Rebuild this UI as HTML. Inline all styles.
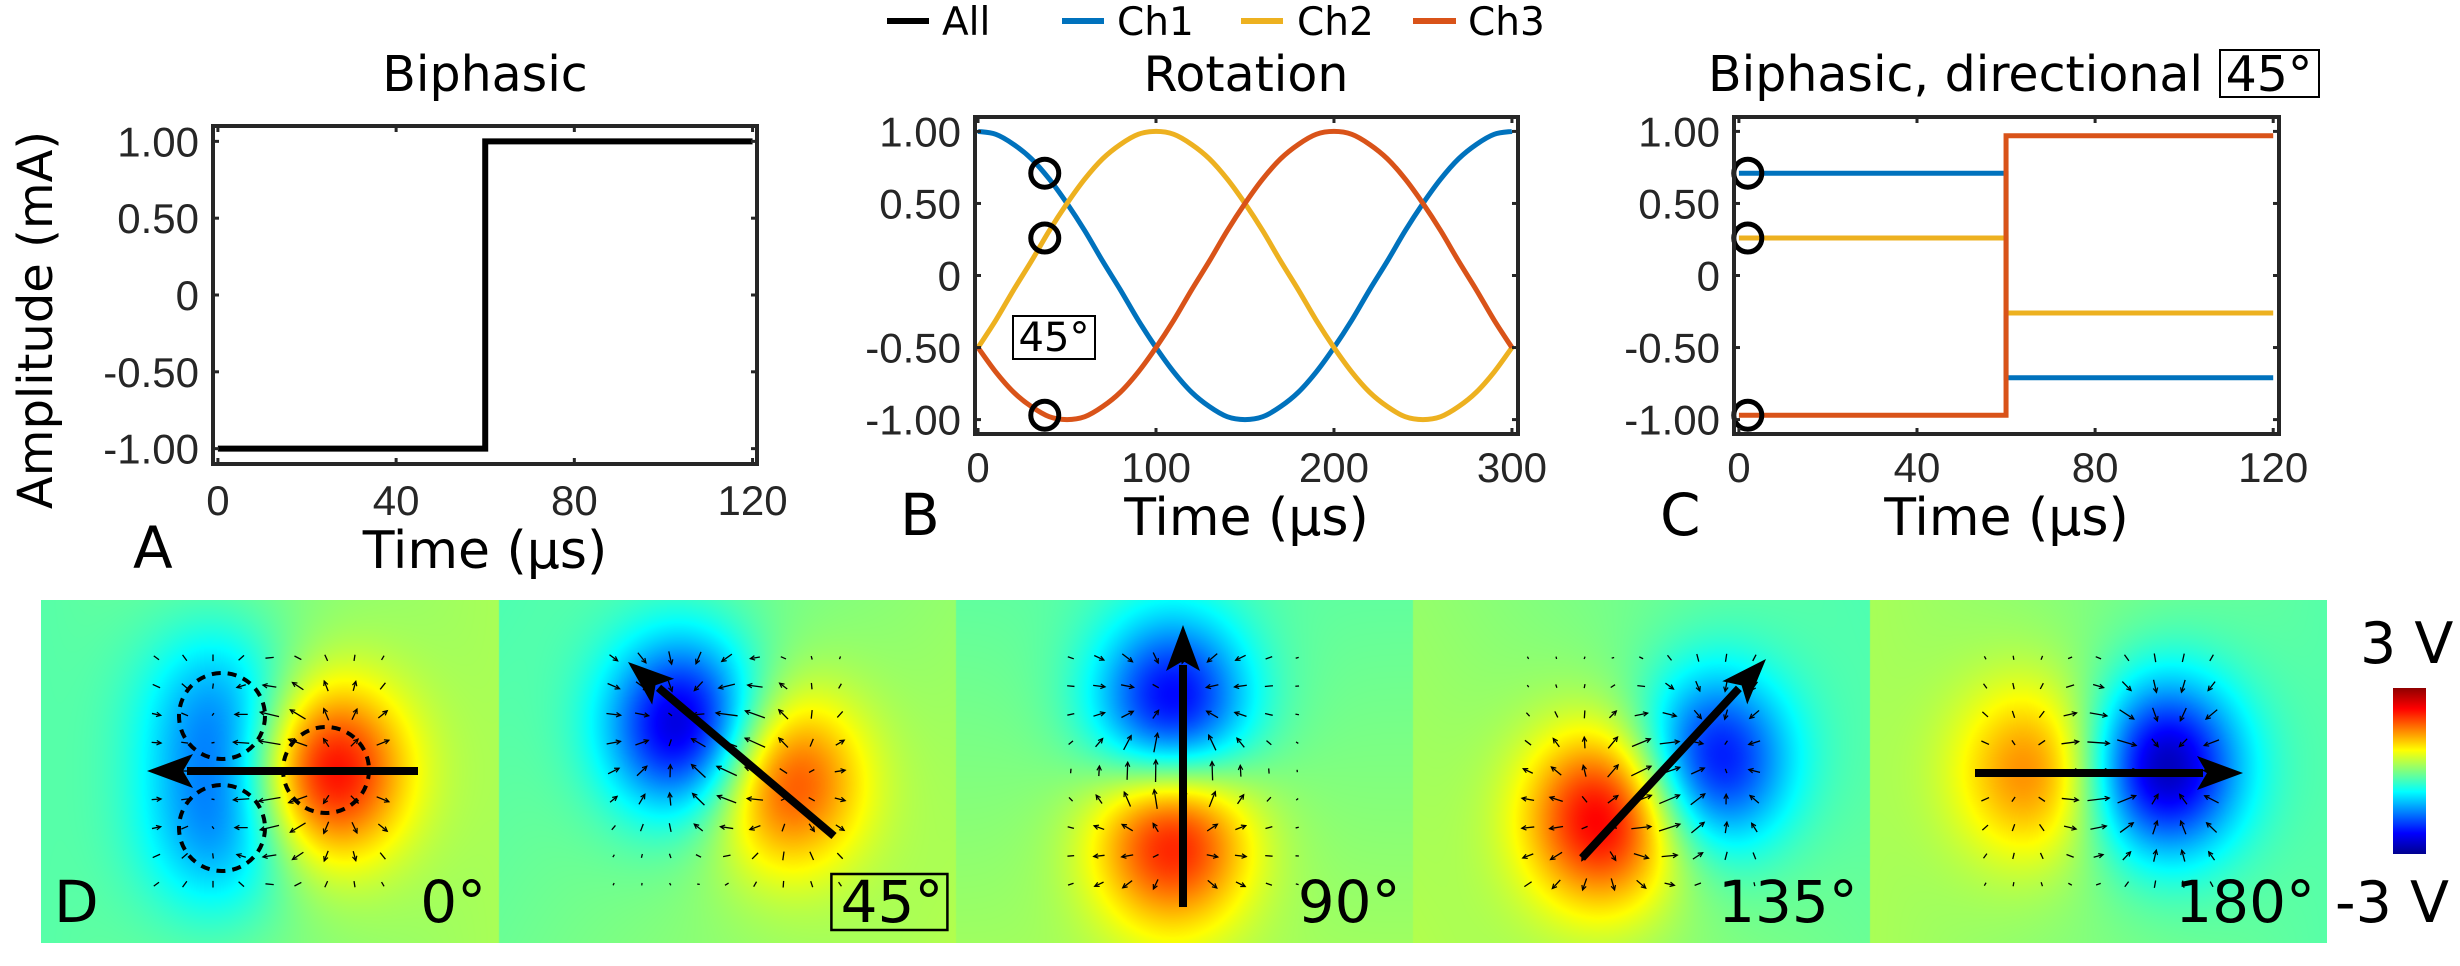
<!DOCTYPE html>
<html><head><meta charset="utf-8">
<style>
html,body{margin:0;padding:0;background:#fff;}
#wrap{position:relative;width:2460px;height:966px;overflow:hidden;background:#fff;}
#heat{position:absolute;left:41px;top:600px;}
#svg{position:absolute;left:0;top:0;}
text{font-family:"DejaVu Sans","Liberation Sans",sans-serif;}
.tick{font-family:"Liberation Sans",sans-serif;font-size:42px;fill:#262626;}
</style></head>
<body>
<div id="wrap">
<canvas id="heat" width="2286" height="343"></canvas>
<svg id="svg" width="2460" height="966" xmlns="http://www.w3.org/2000/svg">
  <g id="legend">
    <g><line x1="887" y1="21" x2="929" y2="21" stroke="#000" stroke-width="6"/><text x="942" y="35" font-size="39">All</text></g>
    <g><line x1="1062" y1="21" x2="1104" y2="21" stroke="#0072BD" stroke-width="6"/><text x="1117" y="35" font-size="39">Ch1</text></g>
    <g><line x1="1241" y1="21" x2="1283" y2="21" stroke="#EDB120" stroke-width="6"/><text x="1297" y="35" font-size="39">Ch2</text></g>
    <g><line x1="1413" y1="21" x2="1456" y2="21" stroke="#D95319" stroke-width="6"/><text x="1468" y="35" font-size="39">Ch3</text></g>
  </g>
  <text x="485" y="91" font-size="49" text-anchor="middle">Biphasic</text>
  <text x="1246" y="91" font-size="49" text-anchor="middle">Rotation</text>
  <text x="1708" y="91" font-size="49">Biphasic, directional</text>
  <rect x="2220" y="50" width="99" height="47" fill="none" stroke="#000" stroke-width="2"/>
  <text x="2269" y="91" font-size="49" text-anchor="middle">45°</text>
  <text transform="translate(52,320) rotate(-90)" font-size="48" text-anchor="middle">Amplitude (mA)</text>
  <g id="charts"></g>
  <g id="quiver"></g>
  <g id="overlay"></g>
  <text x="54" y="922" font-size="58">D</text>
  <defs><linearGradient id="jet" x1="0" y1="1" x2="0" y2="0">
    <stop offset="0" stop-color="#00008f"/><stop offset="0.125" stop-color="#0000ff"/><stop offset="0.375" stop-color="#00ffff"/>
    <stop offset="0.625" stop-color="#ffff00"/><stop offset="0.875" stop-color="#ff0000"/><stop offset="1" stop-color="#8f0000"/>
  </linearGradient></defs>
  <rect x="2393" y="688" width="33" height="166" fill="url(#jet)"/>
  <text x="2360" y="663" font-size="57">3 V</text>
  <text x="2335" y="922" font-size="57">-3 V</text>
</svg>
</div>
<script>
// ---------- data ----------
const aTimes = [0, 60, 60, 120];
const aValues = [-1, -1, 1, 1];
const bTimes = [0,10,20,30,40,50,60,70,80,90,100,110,120,130,140,150,160,170,180,190,200,210,220,230,240,250,260,270,280,290,300];
const bCh1 = [1.00,0.98,0.91,0.81,0.67,0.50,0.31,0.10,-0.10,-0.31,-0.50,-0.67,-0.81,-0.91,-0.98,-1.00,-0.98,-0.91,-0.81,-0.67,-0.50,-0.31,-0.10,0.10,0.31,0.50,0.67,0.81,0.91,0.98,1.00];
const bCh2 = [-0.50,-0.31,-0.10,0.10,0.31,0.50,0.67,0.81,0.91,0.98,1.00,0.98,0.91,0.81,0.67,0.50,0.31,0.10,-0.10,-0.31,-0.50,-0.67,-0.81,-0.91,-0.98,-1.00,-0.98,-0.91,-0.81,-0.67,-0.50];
const bCh3 = [-0.50,-0.67,-0.81,-0.91,-0.98,-1.00,-0.98,-0.91,-0.81,-0.67,-0.50,-0.31,-0.10,0.10,0.31,0.50,0.67,0.81,0.91,0.98,1.00,0.98,0.91,0.81,0.67,0.50,0.31,0.10,-0.10,-0.31,-0.50];
const bMarkerTime = 37.5;
const bMarkerValues = [0.71, 0.26, -0.97];
const cTimes = [0, 60, 120];
const cCh1 = [0.71, -0.71];
const cCh2 = [0.26, -0.26];
const cCh3 = [-0.97, 0.97];
const cMarkerTime = 2;
const cMarkerValues = [0.71, 0.26, -0.97];
const yTicks = [-1, -0.5, 0, 0.5, 1];
const yTickLabels = ["-1.00","-0.50","0","0.50","1.00"];
const aXTicks = [0, 40, 80, 120];
const bXTicks = [0, 100, 200, 300];
const cXTicks = [0, 40, 80, 120];
const angles = ["0°","45°","90°","135°","180°"];
// electrode sources per panel: [x, y, amplitude]
const sources0 = [[327,771,0.76],[220,714,-0.42],[220,828,-0.42]];
const sources1 = [[684,726,-0.85],[784,780,0.62]];
const sources2 = [[1172,706,-0.78],[1172,836,0.72]];
const sources3 = [[1604,817,0.78],[1713,760,-0.72]];
const sources4 = [[2035,771,0.48],[2163,767,-0.88]];
const arrowTails = [[418,771],[834,836],[1183,907],[1582,858],[1975,773]];
const arrowTips = [[147,771],[628,662],[1183,625],[1766,659],[2243,773]];

const C1="#0072BD", C2="#EDB120", C3="#D95319";
const NS="http://www.w3.org/2000/svg";
function mk(tag, attrs, parent){const e=document.createElementNS(NS,tag);for(const k in attrs)e.setAttribute(k,attrs[k]);if(parent)parent.appendChild(e);return e;}
const charts=document.getElementById('charts');

function axes(cfg){
  const g=mk('g',{},charts);
  
  
  const sx=v=>cfg.x0+(v-cfg.xmin)/(cfg.xmax-cfg.xmin)*(cfg.x1-cfg.x0);
  const sy=v=>cfg.y1-(v-cfg.ymin)/(cfg.ymax-cfg.ymin)*(cfg.y1-cfg.y0);
  cfg.sx=sx; cfg.sy=sy; cfg.g=g;
  return cfg;
}
function frame(cfg){
  const g=cfg.g;
  const tg=mk('g',{},g);
  
  
  cfg.xt.forEach(v=>{
    const x=cfg.sx(v);
    mk('line',{x1:x,y1:cfg.y1,x2:x,y2:cfg.y1-6,stroke:'#262626','stroke-width':3},tg);
    mk('line',{x1:x,y1:cfg.y0,x2:x,y2:cfg.y0+6,stroke:'#262626','stroke-width':3},tg);
    const t=mk('text',{x:x,y:cfg.xlabY,'text-anchor':'middle','class':'tick'},tg);
    t.textContent=String(v);
    
    
  });
  yTicks.forEach((v,i)=>{
    const y=cfg.sy(v);
    mk('line',{x1:cfg.x0,y1:y,x2:cfg.x0+6,y2:y,stroke:'#262626','stroke-width':3},tg);
    mk('line',{x1:cfg.x1,y1:y,x2:cfg.x1-6,y2:y,stroke:'#262626','stroke-width':3},tg);
    const t=mk('text',{x:cfg.x0-14,y:y+15,'text-anchor':'end','class':'tick'},tg);
    t.textContent=yTickLabels[i];
    
    
  });
  const r=mk('rect',{x:cfg.x0,y:cfg.y0,width:cfg.x1-cfg.x0,height:cfg.y1-cfg.y0,fill:'none',stroke:'#262626','stroke-width':4},g);
  
  
  const xl=mk('text',{x:(cfg.x0+cfg.x1)/2,y:cfg.xtitleY,'text-anchor':'middle','font-size':52},g);
  xl.textContent='Time (µs)';
  
  
  const pl=mk('text',{x:cfg.letterX,y:cfg.xtitleY,'font-size':58},g);
  pl.textContent=cfg.letter;
  
  
}
function poly(cfg, xs, ys, color, w, name){
  const pts=xs.map((x,i)=>cfg.sx(x).toFixed(2)+','+cfg.sy(ys[i]).toFixed(2)).join(' ');
  const p=mk('polyline',{points:pts,fill:'none',stroke:color,'stroke-width':w,'stroke-linejoin':'miter'},cfg.g);
  
  
}
function smooth(cfg, xs, ys, color, name){
  const P=xs.map((x,i)=>[cfg.sx(x),cfg.sy(ys[i])]);
  let d='M'+P[0][0]+','+P[0][1];
  for(let i=0;i<P.length-1;i++){
    const p0=P[Math.max(0,i-1)],p1=P[i],p2=P[i+1],p3=P[Math.min(P.length-1,i+2)];
    const c1=[p1[0]+(p2[0]-p0[0])/6,p1[1]+(p2[1]-p0[1])/6];
    const c2=[p2[0]-(p3[0]-p1[0])/6,p2[1]-(p3[1]-p1[1])/6];
    d+=' C'+c1[0].toFixed(2)+','+c1[1].toFixed(2)+' '+c2[0].toFixed(2)+','+c2[1].toFixed(2)+' '+p2[0].toFixed(2)+','+p2[1].toFixed(2);
  }
  const p=mk('path',{d:d,fill:'none',stroke:color,'stroke-width':5},cfg.g);
  
  
}
function step(cfg, times, levels, color, name){
  const xs=[times[0],times[1],times[1],times[2]];
  const ys=[levels[0],levels[0],levels[1],levels[1]];
  poly(cfg,xs,ys,color,5,name);
}
function marker(cfg,t,v){
  const c=mk('circle',{cx:cfg.sx(t),cy:cfg.sy(v),r:14,fill:'none',stroke:'#000','stroke-width':5},cfg.g);
  
  
}

// Panel A
const A=axes({name:'chart-biphasic',x0:213,x1:757,y0:126,y1:464,xmin:-1.1,xmax:121,ymin:-1.1,ymax:1.1,xt:aXTicks,xlabY:515,xtitleY:568,letter:'A',letterX:133});
poly(A,aTimes,aValues,'#000',6,'line-all');
frame(A);
// Panel B
const B=axes({name:'chart-rotation',x0:975,x1:1518,y0:117,y1:434,xmin:-1.7,xmax:303.4,ymin:-1.1,ymax:1.1,xt:bXTicks,xlabY:482,xtitleY:535,letter:'B',letterX:900});
smooth(B,bTimes,bCh1,C1,'line-ch1');
smooth(B,bTimes,bCh2,C2,'line-ch2');
smooth(B,bTimes,bCh3,C3,'line-ch3');
bMarkerValues.forEach(v=>marker(B,bMarkerTime,v));
frame(B);
{const r=mk('rect',{x:1013,y:316,width:82,height:43,fill:'#fff',stroke:'#000','stroke-width':2},B.g);
 
 
 const t=mk('text',{x:1054,y:351,'font-size':40,'text-anchor':'middle'},B.g);t.textContent='45°';
 
 }
// Panel C
const Cc=axes({name:'chart-biphasic-directional',x0:1734,x1:2279,y0:117,y1:434,xmin:-1.1,xmax:121.3,ymin:-1.1,ymax:1.1,xt:cXTicks,xlabY:482,xtitleY:535,letter:'C',letterX:1660});
step(Cc,cTimes,cCh1,C1,'line-ch1');
step(Cc,cTimes,cCh2,C2,'line-ch2');
step(Cc,cTimes,cCh3,C3,'line-ch3');
cMarkerValues.forEach(v=>marker(Cc,cMarkerTime,v));
frame(Cc);

// ---------- heatmaps ----------
const panels=[sources0,sources1,sources2,sources3,sources4];
const PW=457.2, HX=41, HY=600, SX=55, SY=63;
function centroid(src,sign){let x=0,y=0,n=0;src.forEach(s=>{if(Math.sign(s[2])===sign){x+=s[0];y+=s[1];n++;}});return [x/n,y/n];}
const bgDir=panels.map(src=>{const r=centroid(src,1),b=centroid(src,-1);const dx=r[0]-b[0],dy=r[1]-b[1],L=Math.hypot(dx,dy);return [dx/L,dy/L];});
function pot(k,X,Y){
  const cx=HX+PW*(k+0.5), cy=771;
  let v=0.08*((X-cx)*bgDir[k][0]+(Y-cy)*bgDir[k][1])/228;
  for(const s of panels[k]){const dx=X-s[0],dy=Y-s[1];v+=s[2]*Math.exp(-(dx*dx/(2*SX*SX)+dy*dy/(2*SY*SY)));}
  return v;
}
function jet(t){const c=x=>Math.max(0,Math.min(1,x));return [c(1.5-Math.abs(4*t-3)),c(1.5-Math.abs(4*t-2)),c(1.5-Math.abs(4*t-1))];}
const cv=document.getElementById('heat'),ctx=cv.getContext('2d');
const img=ctx.createImageData(2286,343);
for(let py=0;py<343;py++){for(let px=0;px<2286;px++){
  const k=Math.min(4,Math.floor(px/PW));
  const i=(py*2286+px)*4;
  const edge=(px-Math.floor(k*PW))===0&&k>0;
  if(edge){img.data[i]=235;img.data[i+1]=250;img.data[i+2]=235;img.data[i+3]=255;continue;}
  const v=pot(k,HX+px,HY+py);
  const rgb=jet(Math.max(0,Math.min(1,(v+1)/2)));
  img.data[i]=rgb[0]*255;img.data[i+1]=rgb[1]*255;img.data[i+2]=rgb[2]*255;img.data[i+3]=255;
}}
ctx.putImageData(img,0,0);

// quiver
const qg=document.getElementById('quiver');
for(let k=0;k<5;k++){
  const cx=HX+PW*(k+0.5);
  for(let r=0;r<9;r++)for(let c=0;c<9;c++){
    const X=cx+(c-4)*28.3, Y=771+(r-4)*28.3;
    let gx=0,gy=0;
    for(const s of panels[k]){const dx=X-s[0],dy=Y-s[1];const g=s[2]*Math.exp(-(dx*dx/(2*SX*SX)+dy*dy/(2*SY*SY)));gx+=-g*dx/(SX*SX);gy+=-g*dy/(SY*SY);}
    const ex=-gx, ey=-gy, m=Math.hypot(ex,ey);
    let L=Math.min(22,1700*m); if(L<2.5)L=2.5;
    const ux=ex/(m||1), uy=ey/(m||1);
    const x1=X-ux*L/2,y1=Y-uy*L/2,x2=X+ux*L/2,y2=Y+uy*L/2;
    const q=mk('g',{},qg);
    
    
    mk('line',{x1:x1,y1:y1,x2:x2,y2:y2,stroke:'#000','stroke-width':1.3},q);
    if(L>9){const h=4.5;mk('polyline',{points:(x2-ux*h-uy*h*0.5)+','+(y2-uy*h+ux*h*0.5)+' '+x2+','+y2+' '+(x2-ux*h+uy*h*0.5)+','+(y2-uy*h-ux*h*0.5),fill:'none',stroke:'#000','stroke-width':1.2},q);}
  }
}
// overlay: dashed electrodes, direction arrows, angle labels
const ov=document.getElementById('overlay');
[[222,716],[222,828],[326,770]].forEach(p=>{
  const c=mk('circle',{cx:p[0],cy:p[1],r:43,fill:'none',stroke:'#000','stroke-width':4,'stroke-dasharray':'9 7'},ov);
  
  
});
for(let k=0;k<5;k++){
  const t=arrowTails[k],p=arrowTips[k];
  const dx=p[0]-t[0],dy=p[1]-t[1],L=Math.hypot(dx,dy),ux=dx/L,uy=dy/L;
  const hl=46,hw=17;
  const bx=p[0]-ux*hl,by=p[1]-uy*hl;
  const g=mk('g',{},ov);
  
  
  mk('line',{x1:t[0],y1:t[1],x2:bx+ux*6,y2:by+uy*6,stroke:'#000','stroke-width':8},g);
  mk('polygon',{points:p[0]+','+p[1]+' '+(bx-uy*hw)+','+(by+ux*hw)+' '+(bx+ux*10)+','+(by+uy*10)+' '+(bx+uy*hw)+','+(by-ux*hw),fill:'#000'},g);
  const rx=HX+PW*(k+1)-12;
  const tx=mk('text',{x:rx,y:922,'font-size':58,'text-anchor':'end'},ov);
  tx.textContent=angles[k];
  
  
  if(k===1){const b=mk('rect',{x:rx-112,y:874,width:116,height:56,fill:'none',stroke:'#000','stroke-width':2.5},ov);
    
    }
}
</script>
</body></html>
